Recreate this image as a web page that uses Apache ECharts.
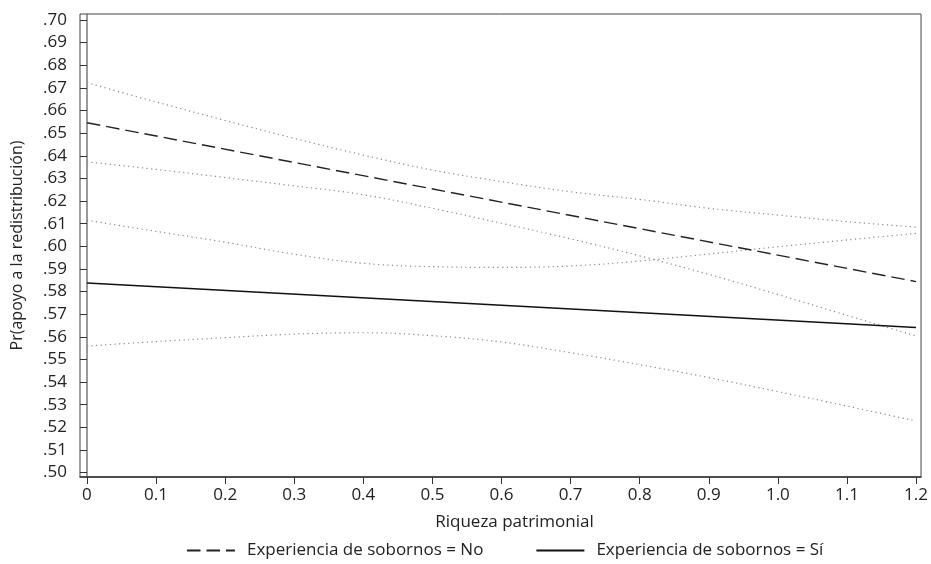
<!DOCTYPE html>
<html>
<head>
<meta charset="utf-8">
<script src="https://cdn.jsdelivr.net/npm/echarts@6/dist/echarts.min.js"></script>
<style>
  html, body { margin: 0; padding: 0; background: #fff; }
  #chart { width: 931px; height: 564px; }
</style>
</head>
<body>
<div id="chart"></div>
<script>
// Riqueza patrimonial (x) values at which the predictions are evaluated
const xGrid = [0, 0.1, 0.2, 0.3, 0.4, 0.5, 0.6, 0.7, 0.8, 0.9, 1.0, 1.1, 1.2];
const xEnds = [0, 1.2];

// Predicted probability, no bribery experience (straight line)
const predNo = [0.6546, 0.5844];
// 95% band, no bribery experience
const upperNo = [0.6723, 0.6638, 0.6556, 0.6477, 0.6403, 0.6337, 0.6286, 0.6241, 0.6207, 0.6168, 0.6138, 0.6109, 0.6085];
const lowerNo = [0.6373, 0.6340, 0.6304, 0.6267, 0.6228, 0.6168, 0.6102, 0.6033, 0.5958, 0.5876, 0.5787, 0.5695, 0.5604];

// Predicted probability, with bribery experience (straight line)
const predSi = [0.5838, 0.5641];
// 95% band, with bribery experience
const upperSi = [0.6115, 0.6066, 0.6018, 0.5965, 0.5925, 0.5910, 0.5907, 0.5913, 0.5935, 0.5966, 0.5998, 0.6028, 0.6057];
const lowerSi = [0.5559, 0.5579, 0.5596, 0.5612, 0.5618, 0.5605, 0.5577, 0.5530, 0.5477, 0.5420, 0.5358, 0.5294, 0.5228];

// Tick labels
const xTicks = [0, 0.1, 0.2, 0.3, 0.4, 0.5, 0.6, 0.7, 0.8, 0.9, 1.0, 1.1, 1.2];
const yTicks = [0.50, 0.51, 0.52, 0.53, 0.54, 0.55, 0.56, 0.57, 0.58, 0.59, 0.60,
                0.61, 0.62, 0.63, 0.64, 0.65, 0.66, 0.67, 0.68, 0.69, 0.70];

const FONT = 'Open Sans';
const FS = 17;
const zip = (xs, ys) => xs.map((x, i) => [x, ys[i]]);

const bandStyle = { color: '#8a8a8a', width: 1.2, type: [1.2, 3.4] };

const chart = echarts.init(document.getElementById('chart'), null, { renderer: 'canvas' });
chart.setOption({
  animation: false,
  backgroundColor: '#fff',
  textStyle: { fontFamily: FONT, color: '#222' },
  grid: {
    left: 80, right: 8, top: 14, bottom: 87,
    show: true, borderColor: '#444', borderWidth: 1
  },
  legend: {
    data: ['Experiencia de sobornos = No', 'Experiencia de sobornos = Sí'],
    left: 186, top: 542, padding: 0,
    itemWidth: 48, itemHeight: 14, itemGap: 52,
    itemStyle: { opacity: 0 },
    textStyle: { fontFamily: FONT, fontSize: FS, color: '#222', padding: [0, 0, 0, 7] }
  },
  xAxis: {
    type: 'value',
    min: -0.0101, max: 1.2072,
    name: 'Riqueza patrimonial',
    nameLocation: 'middle',
    nameGap: 37,
    nameTextStyle: { fontFamily: FONT, fontSize: FS, color: '#222', padding: [0, 0, 0, 28] },
    axisLine: { show: true, lineStyle: { color: '#333', width: 1.5 } },
    axisTick: { show: true, length: 7, lineStyle: { color: '#333' }, customValues: xTicks },
    axisLabel: {
      fontFamily: FONT, fontSize: FS, color: '#222', margin: 10,
      customValues: xTicks,
      formatter: v => (v === 0 ? '0' : v.toFixed(1))
    },
    splitLine: { show: false }
  },
  yAxis: {
    type: 'value',
    min: 0.49806, max: 0.70265,
    name: 'Pr(apoyo a la redistribución)',
    nameLocation: 'middle',
    nameGap: 55,
    nameTextStyle: { fontFamily: FONT, fontSize: 16, color: '#222' },
    axisLine: { show: true, lineStyle: { color: '#777', width: 1.5 } },
    axisTick: { show: true, length: 7, lineStyle: { color: '#333' }, customValues: yTicks },
    axisLabel: {
      fontFamily: FONT, fontSize: FS, color: '#222', margin: 13,
      customValues: yTicks,
      formatter: v => v.toFixed(2).replace(/^0/, '')
    },
    splitLine: { show: false }
  },
  series: [
    {
      name: 'IC superior No', type: 'line', data: zip(xGrid, upperNo),
      smooth: 0.4, showSymbol: false, silent: true, lineStyle: bandStyle
    },
    {
      name: 'IC inferior No', type: 'line', data: zip(xGrid, lowerNo),
      smooth: 0.4, showSymbol: false, silent: true, lineStyle: bandStyle
    },
    {
      name: 'IC superior Sí', type: 'line', data: zip(xGrid, upperSi),
      smooth: 0.4, showSymbol: false, silent: true, lineStyle: bandStyle
    },
    {
      name: 'IC inferior Sí', type: 'line', data: zip(xGrid, lowerSi),
      smooth: 0.4, showSymbol: false, silent: true, lineStyle: bandStyle
    },
    {
      name: 'Experiencia de sobornos = No', type: 'line', data: zip(xEnds, predNo),
      showSymbol: false, symbol: 'none', itemStyle: { color: '#222' },
      lineStyle: { color: '#222', width: 1.4, type: [13.5, 6] }
    },
    {
      name: 'Experiencia de sobornos = Sí', type: 'line', data: zip(xEnds, predSi),
      showSymbol: false, symbol: 'none', itemStyle: { color: '#111' },
      lineStyle: { color: '#111', width: 1.4, type: 'solid' }
    }
  ]
});
</script>
</body>
</html>
